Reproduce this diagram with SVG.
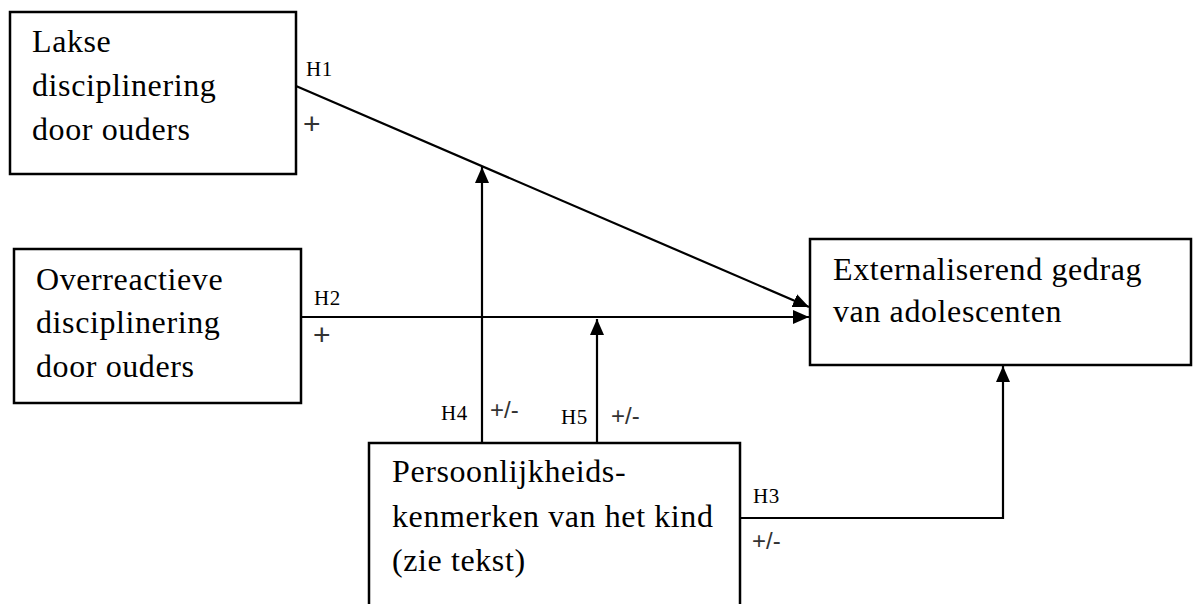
<svg xmlns="http://www.w3.org/2000/svg" width="1193" height="604" viewBox="0 0 1193 604">
<style>
.box{fill:#fff;stroke:#000;stroke-width:2.5}
.t{font-family:"Liberation Serif","Times New Roman",serif;font-size:32px;letter-spacing:0.6px;fill:#000}
.s{font-family:"Liberation Serif","Times New Roman",serif;font-size:21px;letter-spacing:0.5px;fill:#000}
.p{font-family:"Liberation Sans",Arial,sans-serif;font-size:24px;fill:#333}
.c{fill:none;stroke:#000;stroke-width:2.2}
</style>
<defs>
<marker id="a" viewBox="0 0 16 14" refX="16" refY="7" markerWidth="16" markerHeight="14" markerUnits="userSpaceOnUse" orient="auto">
<path d="M0,0 L16,7 L0,14 z" fill="#000"/>
</marker>
</defs>
<g id="connectors">
<line class="c" x1="296" y1="86" x2="809" y2="307" marker-end="url(#a)"/>
<line class="c" x1="301" y1="317" x2="809" y2="317" marker-end="url(#a)"/>
<line class="c" x1="482" y1="443" x2="482" y2="167" marker-end="url(#a)"/>
<line class="c" x1="597" y1="443" x2="597" y2="319" marker-end="url(#a)"/>
<polyline class="c" points="740,518 1003,518 1003,366" marker-end="url(#a)"/>
<text class="s" x="306" y="76">H1</text>
<text class="p" x="303" y="134" style="font-size:30px">+</text>
<text class="s" x="314" y="305">H2</text>
<text class="p" x="313" y="345" style="font-size:30px">+</text>
<text class="s" x="441" y="420">H4</text>
<text class="p" x="490" y="418">+/-</text>
<text class="s" x="561" y="424">H5</text>
<text class="p" x="611" y="424">+/-</text>
<text class="s" x="753" y="503">H3</text>
<text class="p" x="752" y="549">+/-</text>
</g>
<g id="n1">
<rect class="box" x="10" y="12" width="286" height="162"/>
<text class="t" x="32" y="52">Lakse</text>
<text class="t" x="32" y="96">disciplinering</text>
<text class="t" x="32" y="140">door ouders</text>
</g>
<g id="n2">
<rect class="box" x="14" y="249" width="287" height="154"/>
<text class="t" x="36" y="290">Overreactieve</text>
<text class="t" x="36" y="333">disciplinering</text>
<text class="t" x="36" y="377">door ouders</text>
</g>
<g id="n3">
<rect class="box" x="810" y="239" width="381" height="126"/>
<text class="t" x="833" y="280">Externaliserend gedrag</text>
<text class="t" x="833" y="322">van adolescenten</text>
</g>
<g id="n4">
<rect class="box" x="369" y="443" width="371" height="170"/>
<text class="t" x="392" y="482">Persoonlijkheids-</text>
<text class="t" x="392" y="527">kenmerken van het kind</text>
<text class="t" x="392" y="571">(zie tekst)</text>
</g>
</svg>
